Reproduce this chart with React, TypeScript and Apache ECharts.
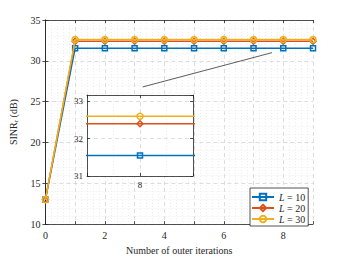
import React, { useEffect, useRef } from "react";
import * as echarts from "echarts";

const iterations = [0, 1, 2, 3, 4, 5, 6, 7, 8, 9];
const sinrL10 = [13, 31.55, 31.55, 31.55, 31.55, 31.55, 31.55, 31.55, 31.55, 31.55];
const sinrL20 = [13, 32.4, 32.4, 32.4, 32.4, 32.4, 32.4, 32.4, 32.4, 32.4];
const sinrL30 = [13, 32.6, 32.6, 32.6, 32.6, 32.6, 32.6, 32.6, 32.6, 32.6];
const seriesNames = ["L10", "L20", "L30"];
const legendLabels = ["10", "20", "30"];
const colors = ["#0072BD", "#D95319", "#EDB120"];
const symbols = ["rect", "diamond", "circle"];
const arrowStart = [3.27, 26.8];
const arrowEnd = [7.62, 31.0];

const FONT = "'Liberation Serif', 'Times New Roman', serif";
const AX = "#262626";

export default function App() {
  const ref = useRef<HTMLDivElement>(null);
  useEffect(() => {
    if (!ref.current) return;
    const chart = echarts.init(ref.current, undefined, { renderer: "svg" });
    const all = [sinrL10, sinrL20, sinrL30];
    const pts = (arr: number[]) => iterations.map((x, i) => [x, arr[i]]);

    const baseAxis = (extra: any) => ({
      type: "value",
      axisLine: { show: true, lineStyle: { color: AX, width: 0.8 } },
      axisTick: { show: true, inside: true, length: 3, lineStyle: { color: AX, width: 0.8 } },
      axisLabel: { color: AX, fontFamily: FONT, fontSize: 10 },
      ...extra,
    });
    const gridLines = {
      splitLine: { show: true, lineStyle: { color: "#d4d4d4", type: [4, 3], width: 0.8 } },
      minorSplitLine: { show: true, lineStyle: { color: "#e6e6e6", type: [1, 2], width: 0.7 } },
    };
    const boxAxis = (extra: any) => ({
      type: "value",
      axisLine: { show: true, lineStyle: { color: AX, width: 0.8 } },
      axisTick: { show: true, inside: true, length: 3, lineStyle: { color: AX, width: 0.8 } },
      axisLabel: { show: false },
      splitLine: { show: false },
      ...extra,
    });

    const series: any[] = [];
    all.forEach((arr, i) => {
      const common = {
        type: "line",
        name: seriesNames[i],
        data: pts(arr),
        symbol: symbols[i],
        symbolSize: symbols[i] === "rect" ? 5 : 6,
        showAllSymbol: true,
        lineStyle: { color: colors[i], width: 1.5 },
        itemStyle: { color: "rgba(255,255,255,0)", borderColor: colors[i], borderWidth: 1.5 },
        emphasis: { disabled: true },
      };
      series.push({ ...common, xAxisIndex: 0, yAxisIndex: 0, z: 2 + i * 0.1 });
      series.push({ ...common, name: seriesNames[i] + "_inset", xAxisIndex: 2, yAxisIndex: 2, z: 6 + i * 0.1, clip: true });
    });
    series.push({
      type: "line",
      name: "arrow",
      xAxisIndex: 0,
      yAxisIndex: 0,
      data: [],
      z: 3,
      markLine: {
        silent: true,
        symbol: ["none", "arrow"],
        symbolSize: [0, 9],
        label: { show: false },
        lineStyle: { color: "#333", width: 0.8, type: "solid" },
        data: [[{ coord: arrowStart }, { coord: arrowEnd }]],
      },
    });

    chart.setOption({
      animation: false,
      backgroundColor: "#fff",
      textStyle: { fontFamily: FONT },
      grid: [
        { left: 45, top: 20, width: 268, height: 211 },
        { left: 87, top: 95, width: 106, height: 81 },
      ],
      graphic: [
        { type: "rect", z: 4, shape: { x: 87, y: 95, width: 106, height: 81 }, style: { fill: "#fff" } },
      ],
      legend: {
        left: 250,
        top: 188,
        orient: "vertical",
        data: seriesNames,
        itemWidth: 22,
        itemHeight: 8,
        itemGap: 1,
        padding: [4, 3, 2, 1],
        backgroundColor: "#fff",
        borderColor: AX,
        borderWidth: 0.8,
        borderRadius: 0,
        z: 8,
        formatter: (n: string) => "{i|L} = " + legendLabels[seriesNames.indexOf(n)],
        textStyle: {
          fontFamily: FONT,
          fontSize: 10,
          color: AX,
          lineHeight: 10,
          rich: { i: { fontStyle: "italic", fontFamily: FONT, fontSize: 10, color: AX } },
        },
      },
      xAxis: [
        baseAxis({
          gridIndex: 0,
          min: 0,
          max: 9,
          interval: 1,
          minorTick: { show: false, splitNumber: 5 },
          ...gridLines,
          axisLabel: {
            color: AX, fontFamily: FONT, fontSize: 10, margin: 6,
            formatter: (v: number) => (Math.round(v) % 2 === 0 ? String(Math.round(v)) : ""),
          },
          name: "Number of outer iterations",
          nameLocation: "middle",
          nameGap: 16,
          nameTextStyle: { color: AX, fontFamily: FONT, fontSize: 10 },
        }),
        boxAxis({ gridIndex: 0, position: "top", min: 0, max: 9, interval: 1 }),
        baseAxis({
          gridIndex: 1,
          min: 7.8,
          max: 8.2,
          interval: 0.2,
          z: 5,
          minorTick: { show: false, splitNumber: 2 },
          ...gridLines,
          axisLabel: {
            color: AX, fontFamily: FONT, fontSize: 9, margin: 4,
            formatter: (v: number) => (Math.abs(v - 8) < 1e-6 ? "8" : ""),
          },
        }),
        boxAxis({ gridIndex: 1, position: "top", min: 7.8, max: 8.2, interval: 0.2, z: 5 }),
      ],
      yAxis: [
        baseAxis({
          gridIndex: 0,
          min: 10,
          max: 35,
          interval: 5,
          minorTick: { show: false, splitNumber: 5 },
          ...gridLines,
          axisLabel: { color: AX, fontFamily: FONT, fontSize: 10, margin: 5 },
          name: "SINR{s|r} (dB)",
          nameLocation: "middle",
          nameGap: 22,
          nameTextStyle: {
            color: AX, fontFamily: FONT, fontSize: 10,
            rich: { s: { fontFamily: FONT, fontSize: 7, color: AX, verticalAlign: "bottom", padding: [6, 0, 0, 0] } },
          },
        }),
        boxAxis({ gridIndex: 0, position: "right", min: 10, max: 35, interval: 5 }),
        baseAxis({
          gridIndex: 1,
          min: 31,
          max: 33.17,
          interval: 1,
          z: 5,
          minorTick: { show: false, splitNumber: 2 },
          splitLine: { show: true, lineStyle: { color: "#d4d4d4", type: [4, 3], width: 0.8 } },
          axisLabel: { color: AX, fontFamily: FONT, fontSize: 9, margin: 4, showMaxLabel: false },
        }),
        boxAxis({ gridIndex: 1, position: "right", min: 31, max: 33.17, interval: 1, z: 5 }),
      ],
      series,
    });
    return () => chart.dispose();
  }, []);
  return <div ref={ref} style={{ position: "fixed", left: 0, top: 0, width: 346, height: 260 }} />;
}
